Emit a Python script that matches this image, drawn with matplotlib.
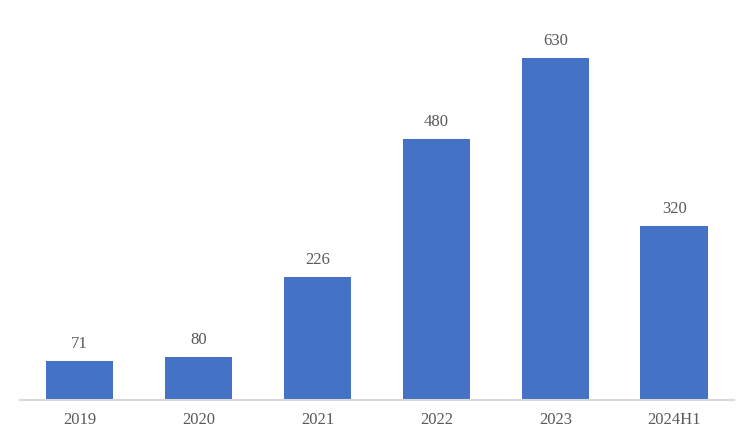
import numpy as np
import matplotlib.pyplot as plt

years = ['2019', '2020', '2021', '2022', '2023', '2024H1']
values = [71, 80, 226, 480, 630, 320]

bar_color = '#4472c4'
text_color = '#595959'
axis_color = '#d9d9d9'

plt.rcParams['font.family'] = ['Liberation Serif', 'DejaVu Serif']

fig = plt.figure(figsize=(7.53, 4.4), dpi=100)
ax = fig.add_axes([0.0266, 0.0909, 0.948, 0.8636])

x = np.arange(len(years))
bars = ax.bar(x, values, width=0.57, color=bar_color, zorder=2)

for rect, v in zip(bars, values):
    ax.annotate(str(v), (rect.get_x() + rect.get_width() / 2, rect.get_height()),
                xytext=(0, 6.5), textcoords='offset points',
                ha='center', va='bottom', fontsize=12, color=text_color)

ax.set_xlim(-0.5, len(years) - 0.5)
ax.set_ylim(0, 700)
ax.set_xticks(x)
ax.set_xticklabels(years, fontsize=12, color=text_color)
ax.tick_params(axis='x', length=0, pad=8.5)
ax.set_yticks([])

for side in ['top', 'right', 'left']:
    ax.spines[side].set_visible(False)
ax.spines['bottom'].set_color(axis_color)
ax.spines['bottom'].set_linewidth(1.5)

fig.savefig('out.png', dpi=100)
